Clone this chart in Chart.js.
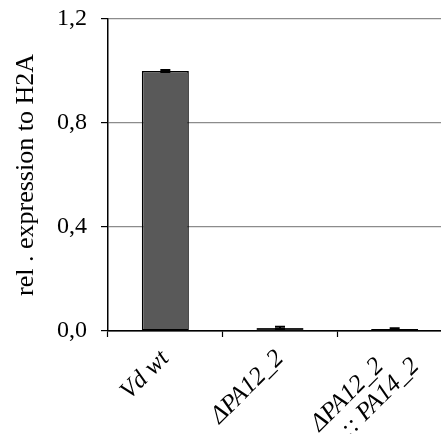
<!DOCTYPE html>
<html>
<head>
<meta charset="utf-8">
<script src="https://cdn.jsdelivr.net/npm/chart.js@4/dist/chart.umd.min.js"></script>
<style>
  html, body { margin: 0; padding: 0; background: #fff; overflow: hidden; }
  #wrap { position: relative; width: 452px; height: 434px; }
</style>
</head>
<body>
<div id="wrap"><canvas id="c"></canvas></div>
<script>
// Strains and their expression relative to H2A
const categories = ["Vd wt", "\u0394PA12_2", ["\u0394PA12_2    ", ":: PA14_2"]];
const expression = [1.0, 0.012, 0.008];
const errors = [0.004, 0.004, 0.003];
const yTicks = [0, 0.4, 0.8, 1.2];

const fills = ["#595959", "#bdbdbd", "#1a1a1a"];
const borders = ["#000000", "#222222", "#000000"];

const SERIF = "'Liberation Serif', 'Times New Roman', serif";

// Error bar whiskers drawn through the y scale
const errorBars = {
  id: "errorBars",
  afterDatasetsDraw(chart) {
    const ctx = chart.ctx;
    const y = chart.scales.y;
    const meta = chart.getDatasetMeta(0);
    ctx.save();
    ctx.strokeStyle = "#000";
    ctx.lineWidth = 2;
    meta.data.forEach((bar, i) => {
      const x = bar.x;
      const top = y.getPixelForValue(expression[i] + errors[i]);
      const bot = y.getPixelForValue(expression[i] - errors[i]);
      ctx.beginPath();
      ctx.moveTo(x, top); ctx.lineTo(x, bot);
      ctx.moveTo(x - 5, top); ctx.lineTo(x + 5, top);
      ctx.moveTo(x - 5, bot); ctx.lineTo(x + 5, bot);
      ctx.stroke();
    });
    ctx.restore();
  }
};

// Two-line category label: lift its block so both lines sit under the tick
const liftMultiline = {
  id: "liftMultiline",
  beforeDraw(chart) {
    const items = chart.scales.x.getLabelItems();
    items.forEach(item => {
      if (Array.isArray(item.label)) {
        item.options.translation[0] += 3;
        item.options.translation[1] -= 10;
      }
    });
  }
};

new Chart(document.getElementById("c"), {
  type: "bar",
  data: {
    labels: categories,
    datasets: [{
      data: expression,
      backgroundColor: fills,
      borderColor: borders,
      borderWidth: 1.5,
      borderSkipped: false,
      categoryPercentage: 1.0,
      barPercentage: 0.41
    }]
  },
  options: {
    responsive: true,
    maintainAspectRatio: false,
    animation: false,
    layout: { padding: { top: 19, right: 0, left: 0, bottom: 0 } },
    plugins: { legend: { display: false }, tooltip: { enabled: false } },
    scales: {
      x: {
        offset: true,
        grid: {
          offset: true,
          drawOnChartArea: false,
          drawTicks: true,
          tickLength: 6,
          tickColor: "#000",
          tickWidth: 1.2
        },
        border: { color: "#000", width: 1.5 },
        ticks: {
          minRotation: 45,
          maxRotation: 45,
          autoSkip: false,
          color: "#000",
          padding: 9,
          font: { family: SERIF, size: 25, style: "italic", lineHeight: 1.0 }
        },
        afterFit(scale) { scale.height = 103; }
      },
      y: {
        min: 0,
        max: 1.2,
        afterBuildTicks(scale) { scale.ticks = yTicks.map(v => ({ value: v })); },
        grid: {
          color: ctx => (ctx.tick && ctx.tick.value === 0 ? "#000" : "#8c8c8c"),
          lineWidth: 1.2,
          drawTicks: true,
          tickLength: 7,
          tickColor: "#000"
        },
        border: { color: "#000", width: 1.5 },
        ticks: {
          color: "#000",
          padding: 14,
          font: { family: SERIF, size: 24 },
          callback: v => v.toFixed(1).replace(".", ",")
        },
        title: {
          display: true,
          text: "rel . expression to H2A",
          color: "#000",
          padding: { top: 11, bottom: 0 },
          font: { family: SERIF, size: 26 }
        },
        afterFit(scale) {
          scale.width = 108;
          scale.paddingTop = 0;
          scale.paddingBottom = 0;
        }
      }
    }
  },
  plugins: [errorBars, liftMultiline]
});
</script>
</body>
</html>
